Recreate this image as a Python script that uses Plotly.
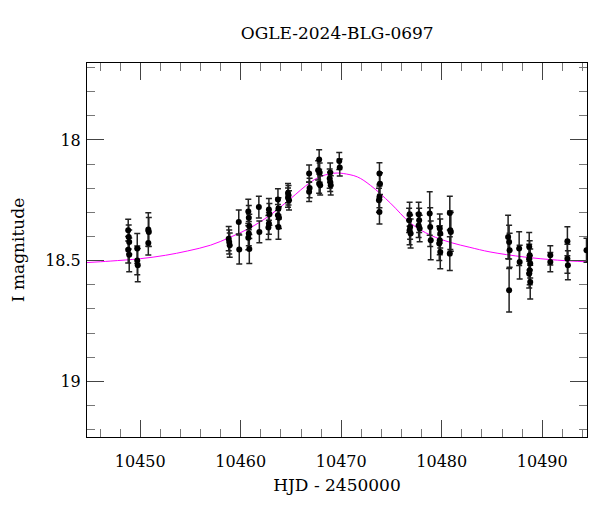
import plotly.graph_objects as go

# Observations (HJD - 2450000, I mag, error)
obs_t = [
    10448.8, 10448.85, 10448.9, 10448.8, 10448.9,
    10449.7, 10449.7, 10449.75,
    10450.8, 10450.85, 10450.8,
    10458.8, 10458.85, 10458.9,
    10459.8, 10459.85,
    10460.75, 10460.8, 10460.85, 10460.8, 10460.75, 10460.85,
    10461.8, 10461.85,
    10462.8, 10462.85, 10462.8, 10462.75,
    10463.7, 10463.75, 10463.7, 10463.8, 10463.75,
    10464.7, 10464.75, 10464.7, 10464.8,
    10466.8, 10466.85, 10466.8,
    10467.8, 10467.7, 10467.85, 10467.8, 10467.9,
    10468.9, 10468.85, 10468.9, 10468.95,
    10469.8, 10469.85,
    10473.8, 10473.85, 10473.8, 10473.75, 10473.8,
    10476.8, 10476.75, 10476.85, 10476.8, 10476.9,
    10477.7, 10477.75, 10477.7, 10477.8,
    10478.8, 10478.85, 10478.9,
    10479.8, 10479.85, 10479.8, 10479.75, 10479.85,
    10480.8, 10480.85, 10480.9, 10480.8,
    10486.6, 10486.7, 10486.75, 10486.7,
    10487.7, 10487.75,
    10488.7, 10488.75, 10488.7, 10488.8, 10488.75, 10488.7, 10488.8,
    10490.8, 10490.8,
    10492.5, 10492.5, 10492.55,
    10494.4,
]
obs_mag = [
    18.374, 18.402, 18.423, 18.455, 18.476,
    18.450, 18.499, 18.519,
    18.371, 18.381, 18.427,
    18.409, 18.423, 18.436,
    18.340, 18.454,
    18.296, 18.322, 18.358, 18.388, 18.405, 18.452,
    18.278, 18.381,
    18.288, 18.308, 18.346, 18.363,
    18.247, 18.284, 18.312, 18.322, 18.361,
    18.220, 18.229, 18.239, 18.250,
    18.139, 18.199, 18.215,
    18.081, 18.126, 18.135, 18.181, 18.188,
    18.135, 18.160, 18.174, 18.188,
    18.087, 18.114,
    18.139, 18.181, 18.236, 18.250, 18.298,
    18.308, 18.333, 18.361, 18.374, 18.388,
    18.308, 18.333, 18.354, 18.367,
    18.305, 18.361, 18.416,
    18.367, 18.388, 18.416, 18.429, 18.464,
    18.303, 18.374, 18.381, 18.471,
    18.402, 18.423, 18.457, 18.623,
    18.450, 18.506,
    18.443, 18.478, 18.492, 18.512, 18.540, 18.554, 18.589,
    18.478, 18.506,
    18.420, 18.492, 18.519,
    18.457,
]
obs_err = [
    0.045, 0.05, 0.05, 0.055, 0.07,
    0.062, 0.06, 0.069,
    0.069, 0.06, 0.05,
    0.05, 0.05, 0.05,
    0.05, 0.06,
    0.05, 0.05, 0.05, 0.05, 0.05, 0.06,
    0.045, 0.045,
    0.045, 0.045, 0.045, 0.05,
    0.045, 0.045, 0.045, 0.045, 0.05,
    0.04, 0.04, 0.04, 0.04,
    0.035, 0.04, 0.04,
    0.04, 0.04, 0.04, 0.04, 0.04,
    0.04, 0.04, 0.04, 0.04,
    0.035, 0.035,
    0.045, 0.045, 0.045, 0.05, 0.05,
    0.05, 0.05, 0.05, 0.06, 0.06,
    0.05, 0.05, 0.05, 0.055,
    0.09, 0.08, 0.08,
    0.06, 0.06, 0.06, 0.07, 0.07,
    0.07, 0.08, 0.08, 0.07,
    0.09, 0.07, 0.07, 0.09,
    0.07, 0.07,
    0.06, 0.06, 0.06, 0.06, 0.06, 0.06, 0.07,
    0.04, 0.04,
    0.06, 0.06, 0.06,
    0.05,
]

# Fitted model curve
model_t = [10444.7, 10447.0, 10450.0, 10452.5, 10454.7, 10457.0, 10458.9, 10460.9,
           10462.9, 10464.9, 10466.9, 10467.9, 10468.9, 10469.6, 10470.2, 10471.6,
           10472.9, 10474.9, 10476.9, 10478.9, 10480.9, 10482.8, 10484.8, 10488.2,
           10491.5, 10494.45]
model_mag = [18.508, 18.502, 18.492, 18.478, 18.460, 18.436, 18.404, 18.365,
             18.312, 18.245, 18.176, 18.152, 18.140, 18.137, 18.139, 18.153,
             18.188, 18.262, 18.345, 18.395, 18.425, 18.445, 18.464, 18.485,
             18.498, 18.505]

FONT = "DejaVu Serif"

fig = go.Figure()
fig.add_trace(go.Scatter(
    x=model_t, y=model_mag, mode="lines",
    line=dict(color="#ff00ff", width=1, shape="spline", smoothing=1.0),
    hoverinfo="skip", showlegend=False,
))
fig.add_trace(go.Scatter(
    x=obs_t, y=obs_mag, mode="markers",
    marker=dict(color="black", size=6),
    error_y=dict(type="data", array=obs_err, visible=True,
                 color="#222222", thickness=1.5, width=3),
    showlegend=False,
))

axis_common = dict(
    showgrid=False, zeroline=False, showline=True, linecolor="black", linewidth=1,
    mirror="allticks", ticks="inside", tickcolor="#444444", tickwidth=1,
    tickfont=dict(family=FONT, size=16, color="black"),
)

fig.update_xaxes(
    range=[10444.7, 10494.45], dtick=10, tick0=10450, ticklen=17, tickformat="d",
    ticklabelstandoff=10,
    minor=dict(dtick=2, ticklen=8, ticks="inside", tickcolor="#777777"),
    title=dict(text="HJD - 2450000", font=dict(family=FONT, size=17, color="black"), standoff=8),
    **axis_common,
)
fig.update_yaxes(
    range=[19.231, 17.681], dtick=0.5, tick0=18, ticklen=17,
    ticklabelstandoff=2,
    minor=dict(dtick=0.1, ticklen=8, ticks="inside", tickcolor="#777777"),
    title=dict(text="I magnitude", font=dict(family=FONT, size=17, color="black"), standoff=16),
    **axis_common,
)

fig.update_layout(
    width=600, height=512,
    margin=dict(l=87, r=13, t=63, b=75, autoexpand=False),
    paper_bgcolor="white", plot_bgcolor="white",
    title=dict(text="OGLE-2024-BLG-0697", x=0.562, xanchor="center", y=0.935, yanchor="middle",
               font=dict(family=FONT, size=17, color="black")),
)

fig.write_html("out.html")
